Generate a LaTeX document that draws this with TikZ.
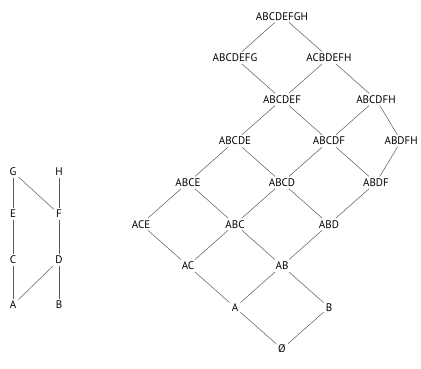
\documentclass[tikz,border=0pt]{standalone}
\usepackage{fontspec}
\setmainfont{PT Sans}
\usepackage{xcolor}
\usetikzlibrary{positioning}
\definecolor{edgegray}{HTML}{5A5A5A}
\definecolor{labelblack}{HTML}{000000}
\tikzset{
  elem/.style={text=labelblack, font=\fontsize{11}{12}\selectfont, inner sep=2pt},
  cover/.style={edgegray, line width=0.5pt}
}

\begin{document}
\begin{tikzpicture}[x=1pt, y=1pt]
  \useasboundingbox (0,0) rectangle (421,369);
  % the poset itself
  \node[elem] (G) at (13,197) {G};
  \node[elem] (H) at (59,197) {H};
  \node[elem] (E) at (13,155) {E};
  \node[elem] (F) at (59,155) {F};
  \node[elem] (C) at (13,109) {C};
  \node[elem] (D) at (59,109) {D};
  \node[elem] (A) at (13,64) {A};
  \node[elem] (B) at (59,64) {B};
  \draw[cover] (G)--(E) (E)--(C) (C)--(A);
  \draw[cover] (H)--(F) (F)--(D) (D)--(B);
  \draw[cover] (G)--(F) (A)--(D);
  % lattice of its down-sets
  \begin{scope}[shift={(282,20)}, x=23.5pt, y=41.6pt]
    \node[elem] (empty) at (0,0) {Ø};
    \node[elem] (sA) at (-2,1) {A};
    \node[elem] (sB) at (2,1) {B};
    \node[elem] (sAC) at (-4,2) {AC};
    \node[elem] (sAB) at (0,2) {AB};
    \node[elem] (sACE) at (-6,3) {ACE};
    \node[elem] (sABC) at (-2,3) {ABC};
    \node[elem] (sABD) at (2,3) {ABD};
    \node[elem] (sABCE) at (-4,4) {ABCE};
    \node[elem] (sABCD) at (0,4) {ABCD};
    \node[elem] (sABDF) at (4,4) {ABDF};
    \node[elem] (sABCDE) at (-2,5) {ABCDE};
    \node[elem] (sABCDF) at (2,5) {ABCDF};
    \node[elem, anchor=east] (sABDFH) at (5.87,5) {ABDFH};
    \node[elem] (sABCDEF) at (0,6) {ABCDEF};
    \node[elem] (sABCDFH) at (4,6) {ABCDFH};
    \node[elem] (sABCDEFG) at (-2,7) {ABCDEFG};
    \node[elem] (sACBDEFH) at (2,7) {ACBDEFH};
    \node[elem] (top) at (0,8) {ABCDEFGH};
  \end{scope}
  \draw[cover] (empty)--(sA) (empty)--(sB);
  \draw[cover] (sA)--(sAC) (sA)--(sAB) (sB)--(sAB);
  \draw[cover] (sAC)--(sACE) (sAC)--(sABC) (sAB)--(sABC) (sAB)--(sABD);
  \draw[cover] (sACE)--(sABCE) (sABC)--(sABCE) (sABC)--(sABCD) (sABD)--(sABCD) (sABD)--(sABDF);
  \draw[cover] (sABCE)--(sABCDE) (sABCD)--(sABCDE) (sABCD)--(sABCDF) (sABDF)--(sABCDF) (sABDF)--(sABDFH);
  \draw[cover] (sABCDE)--(sABCDEF) (sABCDF)--(sABCDEF) (sABCDF)--(sABCDFH) (sABDFH)--(sABCDFH);
  \draw[cover] (sABCDEF)--(sABCDEFG) (sABCDEF)--(sACBDEFH) (sABCDFH)--(sACBDEFH);
  \draw[cover] (sABCDEFG)--(top) (sACBDEFH)--(top);
\end{tikzpicture}
\end{document}
